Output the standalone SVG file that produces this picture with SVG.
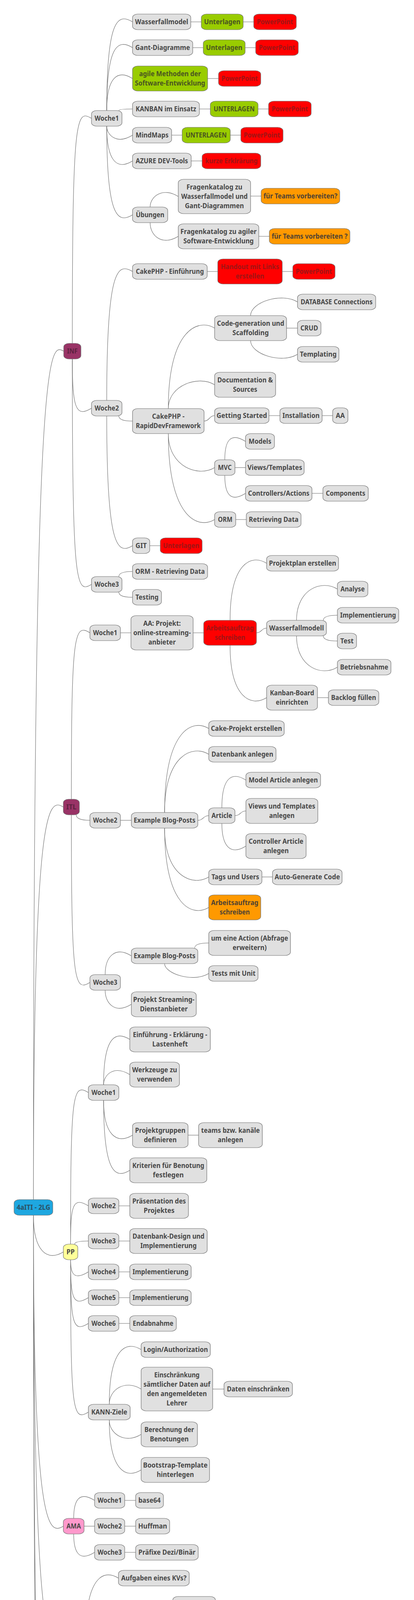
<svg xmlns="http://www.w3.org/2000/svg" width="1059" height="5353" viewBox="0 0 1059 5353">
<style>
.c path{fill:none;stroke:#6b6b6b;stroke-width:1.1}
.n rect{fill:#e0e0e0;stroke:#707070;stroke-width:1.2}
.n text{font-family:"Noto Sans","Open Sans","Liberation Sans",sans-serif;font-weight:bold;font-size:17px;fill:#474747;text-anchor:middle}
.green rect{fill:#99cc00}
.red rect{fill:#ff0000}
.orange rect{fill:#ff9900}
.purple rect{fill:#993366}
.blue rect{fill:#1ea7e0}
.yellow rect{fill:#ffff99}
.pink rect{fill:#ff99cc}
.red text{fill:#9e1414}
.purple text{fill:#5c2140}
.blue text{fill:#2c4f62}
.green text{fill:#4a5420}
.orange text{fill:#4e4233}
</style>
<rect width="1059" height="5353" fill="#ffffff"/>
<g id="connectors" class="c">
<path d="M85.5,3071 C85.5,899 123,874 163,899"/>
<path d="M85.5,3071 C85.5,2066 122,2041 162,2066"/>
<path d="M85.5,3111 C85.5,3205 122,3230 162,3205"/>
<path d="M85.5,3111 C85.5,3907 122,3932 162,3907"/>
<path d="M85.5,3111 C85.5,4213 122,4238 162,4213"/>
<path d="M85.5,3111 C85.5,4970 122,4995 162,4970"/>
<path d="M85.5,3111 C85.5,5284 122,5309 162,5284"/>
<path d="M185,879 C185,303 194,278 234,303"/>
<path d="M185,919 C185,1045 194,1070 234,1045"/>
<path d="M185,919 C185,1496 194,1521 234,1496"/>
<path d="M273,283 C273,56 299,31 339,56"/>
<path d="M273,283 C273,122 299,97 339,122"/>
<path d="M273,283 C273,201 299,176 339,201"/>
<path d="M304,283 Q304,279 339,279"/>
<path d="M273,323 C273,346 299,371 339,346"/>
<path d="M273,323 C273,412 299,437 339,412"/>
<path d="M273,323 C273,550 299,575 339,550"/>
<path d="M488,56H515 M622,56H649 M493,122H520 M627,122H654 M531,201H559 M510,279H538 M660,279H687 M439,346H466 M589,346H616 M489,412H517"/>
<path d="M384,530 C384,503 416,478 456,503"/>
<path d="M384,570 C384,605 416,630 456,605"/>
<path d="M641,502H668 M662,605H689"/>
<path d="M273,1025 C273,695 299,670 339,695"/>
<path d="M304,1065 Q304,1078 339,1078"/>
<path d="M273,1065 C273,1397 299,1422 339,1397"/>
<path d="M530,695H557 M722,695H749"/>
<path d="M430.5,1046 C430.5,840 509,815 549,840"/>
<path d="M430.5,1046 C430.5,985 509,960 549,985"/>
<path d="M522,1078 C535.5,1078 535.5,1064 549,1064"/>
<path d="M430.5,1110 C430.5,1197 509,1222 549,1197"/>
<path d="M430.5,1110 C430.5,1330 509,1355 549,1330"/>
<path d="M688,1064H716 M824,1064H851"/>
<path d="M641,808 C641,773 721,748 761,773"/>
<path d="M733,840H761"/>
<path d="M641,872 C641,907 721,932 761,907"/>
<path d="M575,1177 C575,1130 588,1105 628,1130"/>
<path d="M601,1197H628"/>
<path d="M575,1217 C575,1263 588,1288 628,1263"/>
<path d="M798,1263H826 M603,1330H630 M383,1397H410"/>
<path d="M304,1476 Q304,1463 339,1463"/>
<path d="M304,1516 Q304,1529 339,1529"/>
<path d="M182.5,2046 C182.5,1620 190,1595 230,1620"/>
<path d="M195,2086 Q195,2100 230,2100"/>
<path d="M182.5,2086 C182.5,2515 190,2540 230,2515"/>
<path d="M308,1620H335 M494,1620H521"/>
<path d="M588.5,1588 C588.5,1442 642,1417 682,1442"/>
<path d="M656,1620 C669,1620 669,1608 682,1608"/>
<path d="M588.5,1652 C588.5,1786 642,1811 682,1786"/>
<path d="M758.5,1588 C758.5,1508 823,1483 863,1508"/>
<path d="M827,1588 Q827,1575 863,1575"/>
<path d="M827,1628 Q827,1641 863,1641"/>
<path d="M758.5,1628 C758.5,1708 823,1733 863,1708"/>
<path d="M812,1786H840"/>
<path d="M308,2100H336"/>
<path d="M421,2080 C421,1865 494,1840 534,1865"/>
<path d="M421,2080 C421,1931 494,1906 534,1931"/>
<path d="M506,2100 C520,2100 520,2088 534,2088"/>
<path d="M421,2120 C421,2245 494,2270 534,2245"/>
<path d="M421,2120 C421,2323 494,2348 534,2323"/>
<path d="M567.5,2068 C567.5,1997 589,1972 629,1997"/>
<path d="M601,2088 C615,2088 615,2076 629,2076"/>
<path d="M567.5,2108 C567.5,2166 589,2191 629,2166"/>
<path d="M670,2245H697"/>
<path d="M269,2495 C269,2447 296,2422 336,2447"/>
<path d="M269,2535 C269,2571 296,2596 336,2571"/>
<path d="M498,2427 Q498,2414 534,2414"/>
<path d="M421,2467 C421,2492 494,2517 534,2492"/>
<path d="M180.5,3185 C180.5,2797 186,2772 226,2797"/>
<path d="M180.5,3185 C180.5,3087 186,3062 226,3087"/>
<path d="M191,3185 Q191,3177 226,3177"/>
<path d="M180.5,3225 C180.5,3256 186,3281 226,3256"/>
<path d="M180.5,3225 C180.5,3322 186,3347 226,3322"/>
<path d="M180.5,3225 C180.5,3388 186,3413 226,3388"/>
<path d="M180.5,3225 C180.5,3615 186,3640 226,3615"/>
<path d="M265,2777 C265,2661 292,2636 332,2661"/>
<path d="M265,2777 C265,2751 292,2726 332,2751"/>
<path d="M265,2817 C265,2906 299,2931 339,2906"/>
<path d="M265,2817 C265,2996 292,3021 332,2996"/>
<path d="M481,2906H508"/>
<path d="M304,3087H332 M304,3177H332 M304,3256H332 M304,3322H332 M304,3388H332"/>
<path d="M279.5,3595 C279.5,3455 321,3430 361,3455"/>
<path d="M279.5,3595 C279.5,3556 321,3531 361,3556"/>
<path d="M279.5,3635 C279.5,3672 321,3697 361,3672"/>
<path d="M279.5,3635 C279.5,3763 321,3788 361,3763"/>
<path d="M544,3556H573"/>
<path d="M188.5,3887 C188.5,3841 202,3816 242,3841"/>
<path d="M215,3907H242"/>
<path d="M188.5,3927 C188.5,3974 202,3999 242,3974"/>
<path d="M319,3841H347 M319,3907H347 M319,3974H347"/>
<path d="M219,4193 C219,4040 263,4015 303,4040"/>
<path d="M219,4233 C219,4387 263,4412 303,4387"/>
<path d="M359,4367 C359,4107 402,4082 442,4107"/>
<path d="M359,4367 C359,4173 402,4148 442,4173"/>
<path d="M359,4367 C359,4252 402,4227 442,4252"/>
<path d="M359,4367 C359,4330 402,4305 442,4330"/>
<path d="M359,4407 C359,4499 402,4524 442,4499"/>
<path d="M359,4407 C359,4668 402,4693 442,4668"/>
<path d="M538,4330H565"/>
<path d="M503.5,4479 C503.5,4409 552,4384 592,4409"/>
<path d="M565,4499H592"/>
<path d="M503.5,4519 C503.5,4590 552,4615 592,4590"/>
<path d="M225.5,4950 C225.5,4747 277,4722 317,4747"/>
<path d="M225.5,4950 C225.5,4837 277,4812 317,4837"/>
<path d="M225.5,4950 C225.5,4915 277,4890 317,4915"/>
<path d="M225.5,4990 C225.5,5027 277,5052 317,5027"/>
<path d="M225.5,4990 C225.5,5139 277,5164 317,5139"/>
<path d="M225.5,4990 C225.5,5206 277,5231 317,5206"/>
<path d="M441,4747H468 M418,4915H445"/>
<path d="M335,5007 C335,4982 341,4957 381,4982"/>
<path d="M345,5047 Q345,5061 381,5061"/>
<path d="M314,5284H342 M413,5284H440"/>
</g>
<g id="nodes">
<g id="n-root" class="n blue"><rect x="36" y="3071" width="99" height="40" rx="13" ry="9"/><text x="85.5" y="3096.8" textLength="86" lengthAdjust="spacingAndGlyphs">4aITI - 2LG</text></g>
<g id="n-inf" class="n purple"><rect x="163" y="879" width="44" height="40" rx="13" ry="9"/><text x="185" y="904.8" textLength="27" lengthAdjust="spacingAndGlyphs">INF</text></g>
<g id="n-inf-w1" class="n"><rect x="234" y="283" width="78" height="40" rx="13" ry="9"/><text x="273" y="308.8" textLength="62" lengthAdjust="spacingAndGlyphs">Woche1</text></g>
<g id="n-wf" class="n"><rect x="339" y="36" width="149" height="40" rx="13" ry="9"/><text x="413.5" y="61.8" textLength="136" lengthAdjust="spacingAndGlyphs">Wasserfallmodel</text></g>
<g id="n-wf-u" class="n green"><rect x="515" y="36" width="107" height="40" rx="13" ry="9"/><text x="568.5" y="61.8" textLength="93" lengthAdjust="spacingAndGlyphs">Unterlagen</text></g>
<g id="n-wf-pp" class="n red"><rect x="649" y="36" width="109" height="40" rx="13" ry="9"/><text x="703.5" y="61.8" textLength="93" lengthAdjust="spacingAndGlyphs">PowerPoint</text></g>
<g id="n-gant" class="n"><rect x="339" y="102" width="154" height="40" rx="13" ry="9"/><text x="416" y="127.8" textLength="140" lengthAdjust="spacingAndGlyphs">Gant-Diagramme</text></g>
<g id="n-gant-u" class="n green"><rect x="520" y="102" width="107" height="40" rx="13" ry="9"/><text x="573.5" y="127.8" textLength="93" lengthAdjust="spacingAndGlyphs">Unterlagen</text></g>
<g id="n-gant-pp" class="n red"><rect x="654" y="102" width="109" height="40" rx="13" ry="9"/><text x="708.5" y="127.8" textLength="93" lengthAdjust="spacingAndGlyphs">PowerPoint</text></g>
<g id="n-agile" class="n green"><rect x="339" y="169" width="192" height="64" rx="13" ry="9"/><text x="435" y="194.8" textLength="158" lengthAdjust="spacingAndGlyphs">agile Methoden der</text><text x="435" y="218.8" textLength="180" lengthAdjust="spacingAndGlyphs">Software-Entwicklung</text></g>
<g id="n-agile-pp" class="n red"><rect x="559" y="181" width="108" height="40" rx="13" ry="9"/><text x="613" y="206.8" textLength="93" lengthAdjust="spacingAndGlyphs">PowerPoint</text></g>
<g id="n-kanban" class="n"><rect x="339" y="259" width="171" height="40" rx="13" ry="9"/><text x="424.5" y="284.8" textLength="155" lengthAdjust="spacingAndGlyphs">KANBAN im Einsatz</text></g>
<g id="n-kanban-u" class="n green"><rect x="538" y="259" width="122" height="40" rx="13" ry="9"/><text x="599" y="284.8" textLength="105" lengthAdjust="spacingAndGlyphs">UNTERLAGEN</text></g>
<g id="n-kanban-pp" class="n red"><rect x="687" y="259" width="109" height="40" rx="13" ry="9"/><text x="741.5" y="284.8" textLength="93" lengthAdjust="spacingAndGlyphs">PowerPoint</text></g>
<g id="n-mm" class="n"><rect x="339" y="326" width="100" height="40" rx="13" ry="9"/><text x="389" y="351.8" textLength="84" lengthAdjust="spacingAndGlyphs">MindMaps</text></g>
<g id="n-mm-u" class="n green"><rect x="466" y="326" width="123" height="40" rx="13" ry="9"/><text x="527.5" y="351.8" textLength="105" lengthAdjust="spacingAndGlyphs">UNTERLAGEN</text></g>
<g id="n-mm-pp" class="n red"><rect x="616" y="326" width="108" height="40" rx="13" ry="9"/><text x="670" y="351.8" textLength="93" lengthAdjust="spacingAndGlyphs">PowerPoint</text></g>
<g id="n-azure" class="n"><rect x="339" y="392" width="150" height="40" rx="13" ry="9"/><text x="414" y="417.8" textLength="134" lengthAdjust="spacingAndGlyphs">AZURE DEV-Tools</text></g>
<g id="n-azure-k" class="n red"><rect x="517" y="392" width="150" height="40" rx="13" ry="9"/><text x="592" y="417.8" textLength="134" lengthAdjust="spacingAndGlyphs">kurze Erklrärung</text></g>
<g id="n-ueb" class="n"><rect x="339" y="530" width="90" height="40" rx="13" ry="9"/><text x="384" y="555.8" textLength="73" lengthAdjust="spacingAndGlyphs">Übungen</text></g>
<g id="n-fk1" class="n"><rect x="456" y="459" width="185" height="88" rx="13" ry="9"/><text x="548.5" y="484.8" textLength="143" lengthAdjust="spacingAndGlyphs">Fragenkatalog zu</text><text x="548.5" y="508.8" textLength="170" lengthAdjust="spacingAndGlyphs">Wasserfallmodel und</text><text x="548.5" y="532.8" textLength="151" lengthAdjust="spacingAndGlyphs">Gant-Diagrammen</text></g>
<g id="n-fk1-t" class="n orange"><rect x="668" y="482" width="201" height="40" rx="13" ry="9"/><text x="768.5" y="507.8" textLength="189" lengthAdjust="spacingAndGlyphs">für Teams vorbereiten?</text></g>
<g id="n-fk2" class="n"><rect x="456" y="573" width="206" height="64" rx="13" ry="9"/><text x="559" y="598.8" textLength="195" lengthAdjust="spacingAndGlyphs">Fragenkatalog zu agiler</text><text x="559" y="622.8" textLength="180" lengthAdjust="spacingAndGlyphs">Software-Entwicklung</text></g>
<g id="n-fk2-t" class="n orange"><rect x="689" y="585" width="206" height="40" rx="13" ry="9"/><text x="792" y="610.8" textLength="194" lengthAdjust="spacingAndGlyphs">für Teams vorbereiten ?</text></g>
<g id="n-inf-w2" class="n"><rect x="234" y="1025" width="78" height="40" rx="13" ry="9"/><text x="273" y="1050.8" textLength="62" lengthAdjust="spacingAndGlyphs">Woche2</text></g>
<g id="n-cake-e" class="n"><rect x="339" y="675" width="191" height="40" rx="13" ry="9"/><text x="434.5" y="700.8" textLength="174" lengthAdjust="spacingAndGlyphs">CakePHP - Einführung</text></g>
<g id="n-handout" class="n red"><rect x="557" y="663" width="165" height="64" rx="13" ry="9"/><text x="639.5" y="688.8" textLength="149" lengthAdjust="spacingAndGlyphs">Handout mit Links</text><text x="639.5" y="712.8" textLength="73" lengthAdjust="spacingAndGlyphs">erstellen</text></g>
<g id="n-handout-pp" class="n red"><rect x="749" y="675" width="108" height="40" rx="13" ry="9"/><text x="803" y="700.8" textLength="93" lengthAdjust="spacingAndGlyphs">PowerPoint</text></g>
<g id="n-rdf" class="n"><rect x="339" y="1046" width="183" height="64" rx="13" ry="9"/><text x="430.5" y="1071.8" textLength="83" lengthAdjust="spacingAndGlyphs">CakePHP -</text><text x="430.5" y="1095.8" textLength="166" lengthAdjust="spacingAndGlyphs">RapidDevFramework</text></g>
<g id="n-codegen" class="n"><rect x="549" y="808" width="184" height="64" rx="13" ry="9"/><text x="641" y="833.8" textLength="172" lengthAdjust="spacingAndGlyphs">Code-generation und</text><text x="641" y="857.8" textLength="93" lengthAdjust="spacingAndGlyphs">Scaffolding</text></g>
<g id="n-db" class="n"><rect x="761" y="753" width="200" height="40" rx="13" ry="9"/><text x="861" y="778.8" textLength="184" lengthAdjust="spacingAndGlyphs">DATABASE Connections</text></g>
<g id="n-crud" class="n"><rect x="761" y="820" width="60" height="40" rx="13" ry="9"/><text x="791" y="845.8" textLength="45" lengthAdjust="spacingAndGlyphs">CRUD</text></g>
<g id="n-templ" class="n"><rect x="761" y="887" width="106" height="40" rx="13" ry="9"/><text x="814" y="912.8" textLength="94" lengthAdjust="spacingAndGlyphs">Templating</text></g>
<g id="n-doc" class="n"><rect x="549" y="953" width="156" height="64" rx="13" ry="9"/><text x="627" y="978.8" textLength="142" lengthAdjust="spacingAndGlyphs">Documentation &amp;</text><text x="627" y="1002.8" textLength="62" lengthAdjust="spacingAndGlyphs">Sources</text></g>
<g id="n-gs" class="n"><rect x="549" y="1044" width="139" height="40" rx="13" ry="9"/><text x="618.5" y="1069.8" textLength="129" lengthAdjust="spacingAndGlyphs">Getting Started</text></g>
<g id="n-inst" class="n"><rect x="716" y="1044" width="108" height="40" rx="13" ry="9"/><text x="770" y="1069.8" textLength="95" lengthAdjust="spacingAndGlyphs">Installation</text></g>
<g id="n-aa" class="n"><rect x="851" y="1044" width="39" height="40" rx="13" ry="9"/><text x="870.5" y="1069.8" textLength="23" lengthAdjust="spacingAndGlyphs">AA</text></g>
<g id="n-models" class="n"><rect x="628" y="1110" width="74" height="40" rx="13" ry="9"/><text x="665" y="1135.8" textLength="58" lengthAdjust="spacingAndGlyphs">Models</text></g>
<g id="n-mvc" class="n"><rect x="549" y="1177" width="52" height="40" rx="13" ry="9"/><text x="575" y="1202.8" textLength="35" lengthAdjust="spacingAndGlyphs">MVC</text></g>
<g id="n-views" class="n"><rect x="628" y="1177" width="150" height="40" rx="13" ry="9"/><text x="703" y="1202.8" textLength="140" lengthAdjust="spacingAndGlyphs">Views/Templates</text></g>
<g id="n-ctrl" class="n"><rect x="628" y="1243" width="170" height="40" rx="13" ry="9"/><text x="713" y="1268.8" textLength="157" lengthAdjust="spacingAndGlyphs">Controllers/Actions</text></g>
<g id="n-comp" class="n"><rect x="826" y="1243" width="116" height="40" rx="13" ry="9"/><text x="884" y="1268.8" textLength="101" lengthAdjust="spacingAndGlyphs">Components</text></g>
<g id="n-orm" class="n"><rect x="549" y="1310" width="54" height="40" rx="13" ry="9"/><text x="576" y="1335.8" textLength="37" lengthAdjust="spacingAndGlyphs">ORM</text></g>
<g id="n-rd" class="n"><rect x="630" y="1310" width="140" height="40" rx="13" ry="9"/><text x="700" y="1335.8" textLength="127" lengthAdjust="spacingAndGlyphs">Retrieving Data</text></g>
<g id="n-git" class="n"><rect x="339" y="1377" width="44" height="40" rx="13" ry="9"/><text x="361" y="1402.8" textLength="29" lengthAdjust="spacingAndGlyphs">GIT</text></g>
<g id="n-git-u" class="n red"><rect x="410" y="1377" width="107" height="40" rx="13" ry="9"/><text x="463.5" y="1402.8" textLength="93" lengthAdjust="spacingAndGlyphs">Unterlagen</text></g>
<g id="n-inf-w3" class="n"><rect x="234" y="1476" width="78" height="40" rx="13" ry="9"/><text x="273" y="1501.8" textLength="62" lengthAdjust="spacingAndGlyphs">Woche3</text></g>
<g id="n-ormrd" class="n"><rect x="339" y="1443" width="192" height="40" rx="13" ry="9"/><text x="435" y="1468.8" textLength="178" lengthAdjust="spacingAndGlyphs">ORM - Retrieving Data</text></g>
<g id="n-testing" class="n"><rect x="339" y="1509" width="74" height="40" rx="13" ry="9"/><text x="376" y="1534.8" textLength="59" lengthAdjust="spacingAndGlyphs">Testing</text></g>
<g id="n-itl" class="n purple"><rect x="162" y="2046" width="41" height="40" rx="13" ry="9"/><text x="182.5" y="2071.8" textLength="26" lengthAdjust="spacingAndGlyphs">ITL</text></g>
<g id="n-itl-w1" class="n"><rect x="230" y="1600" width="78" height="40" rx="13" ry="9"/><text x="269" y="1625.8" textLength="62" lengthAdjust="spacingAndGlyphs">Woche1</text></g>
<g id="n-aap" class="n"><rect x="335" y="1576" width="159" height="88" rx="13" ry="9"/><text x="414.5" y="1601.8" textLength="96" lengthAdjust="spacingAndGlyphs">AA: Projekt:</text><text x="414.5" y="1625.8" textLength="147" lengthAdjust="spacingAndGlyphs">online-streaming-</text><text x="414.5" y="1649.8" textLength="70" lengthAdjust="spacingAndGlyphs">anbieter</text></g>
<g id="n-aa-red" class="n red"><rect x="521" y="1588" width="135" height="64" rx="13" ry="9"/><text x="588.5" y="1613.8" textLength="122" lengthAdjust="spacingAndGlyphs">Arbeitsauftrag</text><text x="588.5" y="1637.8" textLength="78" lengthAdjust="spacingAndGlyphs">schreiben</text></g>
<g id="n-pplan" class="n"><rect x="682" y="1422" width="184" height="40" rx="13" ry="9"/><text x="774" y="1447.8" textLength="172" lengthAdjust="spacingAndGlyphs">Projektplan erstellen</text></g>
<g id="n-wfm" class="n"><rect x="682" y="1588" width="153" height="40" rx="13" ry="9"/><text x="758.5" y="1613.8" textLength="140" lengthAdjust="spacingAndGlyphs">Wasserfallmodell</text></g>
<g id="n-analyse" class="n"><rect x="863" y="1488" width="78" height="40" rx="13" ry="9"/><text x="902" y="1513.8" textLength="62" lengthAdjust="spacingAndGlyphs">Analyse</text></g>
<g id="n-impl" class="n"><rect x="863" y="1555" width="157" height="40" rx="13" ry="9"/><text x="941.5" y="1580.8" textLength="143" lengthAdjust="spacingAndGlyphs">Implementierung</text></g>
<g id="n-test" class="n"><rect x="863" y="1621" width="49" height="40" rx="13" ry="9"/><text x="887.5" y="1646.8" textLength="34" lengthAdjust="spacingAndGlyphs">Test</text></g>
<g id="n-betr" class="n"><rect x="863" y="1688" width="137" height="40" rx="13" ry="9"/><text x="931.5" y="1713.8" textLength="123" lengthAdjust="spacingAndGlyphs">Betriebsnahme</text></g>
<g id="n-kb" class="n"><rect x="682" y="1754" width="130" height="64" rx="13" ry="9"/><text x="747" y="1779.8" textLength="113" lengthAdjust="spacingAndGlyphs">Kanban-Board</text><text x="747" y="1803.8" textLength="83" lengthAdjust="spacingAndGlyphs">einrichten</text></g>
<g id="n-backlog" class="n"><rect x="840" y="1766" width="129" height="40" rx="13" ry="9"/><text x="904.5" y="1791.8" textLength="115" lengthAdjust="spacingAndGlyphs">Backlog füllen</text></g>
<g id="n-itl-w2" class="n"><rect x="230" y="2080" width="78" height="40" rx="13" ry="9"/><text x="269" y="2105.8" textLength="62" lengthAdjust="spacingAndGlyphs">Woche2</text></g>
<g id="n-ebp" class="n"><rect x="336" y="2080" width="170" height="40" rx="13" ry="9"/><text x="421" y="2105.8" textLength="158" lengthAdjust="spacingAndGlyphs">Example Blog-Posts</text></g>
<g id="n-cakep" class="n"><rect x="534" y="1845" width="193" height="40" rx="13" ry="9"/><text x="630.5" y="1870.8" textLength="182" lengthAdjust="spacingAndGlyphs">Cake-Projekt erstellen</text></g>
<g id="n-dbanl" class="n"><rect x="534" y="1911" width="172" height="40" rx="13" ry="9"/><text x="620" y="1936.8" textLength="158" lengthAdjust="spacingAndGlyphs">Datenbank anlegen</text></g>
<g id="n-article" class="n"><rect x="534" y="2068" width="67" height="40" rx="13" ry="9"/><text x="567.5" y="2093.8" textLength="53" lengthAdjust="spacingAndGlyphs">Article</text></g>
<g id="n-model-a" class="n"><rect x="629" y="1977" width="191" height="40" rx="13" ry="9"/><text x="724.5" y="2002.8" textLength="177" lengthAdjust="spacingAndGlyphs">Model Article anlegen</text></g>
<g id="n-views-a" class="n"><rect x="629" y="2044" width="184" height="64" rx="13" ry="9"/><text x="721" y="2069.8" textLength="171" lengthAdjust="spacingAndGlyphs">Views und Templates</text><text x="721" y="2093.8" textLength="65" lengthAdjust="spacingAndGlyphs">anlegen</text></g>
<g id="n-ctrl-a" class="n"><rect x="629" y="2134" width="154" height="64" rx="13" ry="9"/><text x="706" y="2159.8" textLength="140" lengthAdjust="spacingAndGlyphs">Controller Article</text><text x="706" y="2183.8" textLength="65" lengthAdjust="spacingAndGlyphs">anlegen</text></g>
<g id="n-tags" class="n"><rect x="534" y="2225" width="136" height="40" rx="13" ry="9"/><text x="602" y="2250.8" textLength="122" lengthAdjust="spacingAndGlyphs">Tags und Users</text></g>
<g id="n-autogen" class="n"><rect x="697" y="2225" width="178" height="40" rx="13" ry="9"/><text x="786" y="2250.8" textLength="167" lengthAdjust="spacingAndGlyphs">Auto-Generate Code</text></g>
<g id="n-aa-or" class="n orange"><rect x="534" y="2291" width="133" height="64" rx="13" ry="9"/><text x="600.5" y="2316.8" textLength="121" lengthAdjust="spacingAndGlyphs">Arbeitsauftrag</text><text x="600.5" y="2340.8" textLength="77" lengthAdjust="spacingAndGlyphs">schreiben</text></g>
<g id="n-itl-w3" class="n"><rect x="230" y="2495" width="78" height="40" rx="13" ry="9"/><text x="269" y="2520.8" textLength="62" lengthAdjust="spacingAndGlyphs">Woche3</text></g>
<g id="n-ebp2" class="n"><rect x="336" y="2427" width="170" height="40" rx="13" ry="9"/><text x="421" y="2452.8" textLength="158" lengthAdjust="spacingAndGlyphs">Example Blog-Posts</text></g>
<g id="n-action" class="n"><rect x="534" y="2382" width="209" height="64" rx="13" ry="9"/><text x="638.5" y="2407.8" textLength="197" lengthAdjust="spacingAndGlyphs">um eine Action (Abfrage</text><text x="638.5" y="2431.8" textLength="87" lengthAdjust="spacingAndGlyphs">erweitern)</text></g>
<g id="n-tests" class="n"><rect x="534" y="2472" width="126" height="40" rx="13" ry="9"/><text x="597" y="2497.8" textLength="113" lengthAdjust="spacingAndGlyphs">Tests mit Unit</text></g>
<g id="n-stream" class="n"><rect x="336" y="2539" width="166" height="64" rx="13" ry="9"/><text x="419" y="2564.8" textLength="157" lengthAdjust="spacingAndGlyphs">Projekt Streaming-</text><text x="419" y="2588.8" textLength="122" lengthAdjust="spacingAndGlyphs">Dienstanbieter</text></g>
<g id="n-pp" class="n yellow"><rect x="162" y="3185" width="37" height="40" rx="13" ry="9"/><text x="180.5" y="3210.8" textLength="21" lengthAdjust="spacingAndGlyphs">PP</text></g>
<g id="n-pp-w1" class="n"><rect x="226" y="2777" width="78" height="40" rx="13" ry="9"/><text x="265" y="2802.8" textLength="62" lengthAdjust="spacingAndGlyphs">Woche1</text></g>
<g id="n-einf" class="n"><rect x="332" y="2629" width="206" height="64" rx="13" ry="9"/><text x="435" y="2654.8" textLength="190" lengthAdjust="spacingAndGlyphs">Einführung - Erklärung -</text><text x="435" y="2678.8" textLength="91" lengthAdjust="spacingAndGlyphs">Lastenheft</text></g>
<g id="n-werk" class="n"><rect x="332" y="2719" width="127" height="64" rx="13" ry="9"/><text x="395.5" y="2744.8" textLength="115" lengthAdjust="spacingAndGlyphs">Werkzeuge zu</text><text x="395.5" y="2768.8" textLength="90" lengthAdjust="spacingAndGlyphs">verwenden</text></g>
<g id="n-pgrp" class="n"><rect x="339" y="2874" width="142" height="64" rx="13" ry="9"/><text x="410" y="2899.8" textLength="129" lengthAdjust="spacingAndGlyphs">Projektgruppen</text><text x="410" y="2923.8" textLength="84" lengthAdjust="spacingAndGlyphs">definieren</text></g>
<g id="n-teams" class="n"><rect x="508" y="2874" width="163" height="64" rx="13" ry="9"/><text x="589.5" y="2899.8" textLength="150" lengthAdjust="spacingAndGlyphs">teams bzw. kanäle</text><text x="589.5" y="2923.8" textLength="65" lengthAdjust="spacingAndGlyphs">anlegen</text></g>
<g id="n-krit" class="n"><rect x="332" y="2964" width="197" height="64" rx="13" ry="9"/><text x="430.5" y="2989.8" textLength="184" lengthAdjust="spacingAndGlyphs">Kriterien für Benotung</text><text x="430.5" y="3013.8" textLength="79" lengthAdjust="spacingAndGlyphs">festlegen</text></g>
<g id="n-pp-w2" class="n"><rect x="226" y="3067" width="78" height="40" rx="13" ry="9"/><text x="265" y="3092.8" textLength="62" lengthAdjust="spacingAndGlyphs">Woche2</text></g>
<g id="n-praes" class="n"><rect x="332" y="3055" width="150" height="64" rx="13" ry="9"/><text x="407" y="3080.8" textLength="137" lengthAdjust="spacingAndGlyphs">Präsentation des</text><text x="407" y="3104.8" textLength="79" lengthAdjust="spacingAndGlyphs">Projektes</text></g>
<g id="n-pp-w3" class="n"><rect x="226" y="3157" width="78" height="40" rx="13" ry="9"/><text x="265" y="3182.8" textLength="62" lengthAdjust="spacingAndGlyphs">Woche3</text></g>
<g id="n-dbd" class="n"><rect x="332" y="3145" width="198" height="64" rx="13" ry="9"/><text x="431" y="3170.8" textLength="184" lengthAdjust="spacingAndGlyphs">Datenbank-Design und</text><text x="431" y="3194.8" textLength="144" lengthAdjust="spacingAndGlyphs">Implementierung</text></g>
<g id="n-pp-w4" class="n"><rect x="226" y="3236" width="78" height="40" rx="13" ry="9"/><text x="265" y="3261.8" textLength="62" lengthAdjust="spacingAndGlyphs">Woche4</text></g>
<g id="n-impl4" class="n"><rect x="332" y="3236" width="157" height="40" rx="13" ry="9"/><text x="410.5" y="3261.8" textLength="143" lengthAdjust="spacingAndGlyphs">Implementierung</text></g>
<g id="n-pp-w5" class="n"><rect x="226" y="3302" width="78" height="40" rx="13" ry="9"/><text x="265" y="3327.8" textLength="62" lengthAdjust="spacingAndGlyphs">Woche5</text></g>
<g id="n-impl5" class="n"><rect x="332" y="3302" width="157" height="40" rx="13" ry="9"/><text x="410.5" y="3327.8" textLength="143" lengthAdjust="spacingAndGlyphs">Implementierung</text></g>
<g id="n-pp-w6" class="n"><rect x="226" y="3368" width="78" height="40" rx="13" ry="9"/><text x="265" y="3393.8" textLength="62" lengthAdjust="spacingAndGlyphs">Woche6</text></g>
<g id="n-endab" class="n"><rect x="332" y="3368" width="119" height="40" rx="13" ry="9"/><text x="391.5" y="3393.8" textLength="104" lengthAdjust="spacingAndGlyphs">Endabnahme</text></g>
<g id="n-kann" class="n"><rect x="226" y="3595" width="107" height="40" rx="13" ry="9"/><text x="279.5" y="3620.8" textLength="92" lengthAdjust="spacingAndGlyphs">KANN-Ziele</text></g>
<g id="n-login" class="n"><rect x="361" y="3435" width="177" height="40" rx="13" ry="9"/><text x="449.5" y="3460.8" textLength="165" lengthAdjust="spacingAndGlyphs">Login/Authorization</text></g>
<g id="n-einschr" class="n"><rect x="361" y="3500" width="183" height="112" rx="13" ry="9"/><text x="452.5" y="3525.8" textLength="116" lengthAdjust="spacingAndGlyphs">Einschränkung</text><text x="452.5" y="3549.8" textLength="171" lengthAdjust="spacingAndGlyphs">sämtlicher Daten auf</text><text x="452.5" y="3573.8" textLength="153" lengthAdjust="spacingAndGlyphs">den angemeldeten</text><text x="452.5" y="3597.8" textLength="53" lengthAdjust="spacingAndGlyphs">Lehrer</text></g>
<g id="n-daten" class="n"><rect x="573" y="3536" width="175" height="40" rx="13" ry="9"/><text x="660.5" y="3561.8" textLength="160" lengthAdjust="spacingAndGlyphs">Daten einschränken</text></g>
<g id="n-berech" class="n"><rect x="361" y="3640" width="144" height="64" rx="13" ry="9"/><text x="433" y="3665.8" textLength="127" lengthAdjust="spacingAndGlyphs">Berechnung der</text><text x="433" y="3689.8" textLength="99" lengthAdjust="spacingAndGlyphs">Benotungen</text></g>
<g id="n-boot" class="n"><rect x="361" y="3731" width="175" height="64" rx="13" ry="9"/><text x="448.5" y="3756.8" textLength="165" lengthAdjust="spacingAndGlyphs">Bootstrap-Template</text><text x="448.5" y="3780.8" textLength="95" lengthAdjust="spacingAndGlyphs">hinterlegen</text></g>
<g id="n-ama" class="n pink"><rect x="162" y="3887" width="53" height="40" rx="13" ry="9"/><text x="188.5" y="3912.8" textLength="37" lengthAdjust="spacingAndGlyphs">AMA</text></g>
<g id="n-ama-w1" class="n"><rect x="242" y="3821" width="77" height="40" rx="13" ry="9"/><text x="280.5" y="3846.8" textLength="62" lengthAdjust="spacingAndGlyphs">Woche1</text></g>
<g id="n-base64" class="n"><rect x="347" y="3821" width="71" height="40" rx="13" ry="9"/><text x="382.5" y="3846.8" textLength="57" lengthAdjust="spacingAndGlyphs">base64</text></g>
<g id="n-ama-w2" class="n"><rect x="242" y="3887" width="77" height="40" rx="13" ry="9"/><text x="280.5" y="3912.8" textLength="62" lengthAdjust="spacingAndGlyphs">Woche2</text></g>
<g id="n-huffman" class="n"><rect x="347" y="3887" width="87" height="40" rx="13" ry="9"/><text x="390.5" y="3912.8" textLength="74" lengthAdjust="spacingAndGlyphs">Huffman</text></g>
<g id="n-ama-w3" class="n"><rect x="242" y="3954" width="77" height="40" rx="13" ry="9"/><text x="280.5" y="3979.8" textLength="62" lengthAdjust="spacingAndGlyphs">Woche3</text></g>
<g id="n-praef" class="n"><rect x="347" y="3954" width="160" height="40" rx="13" ry="9"/><text x="427" y="3979.8" textLength="146" lengthAdjust="spacingAndGlyphs">Präfixe Dezi/Binär</text></g>
<g id="n-allg" class="n"><rect x="162" y="4193" width="114" height="40" rx="13" ry="9"/><text x="219" y="4218.8" textLength="100" lengthAdjust="spacingAndGlyphs">Allgemeines</text></g>
<g id="n-kv" class="n"><rect x="303" y="4020" width="181" height="40" rx="13" ry="9"/><text x="393.5" y="4045.8" textLength="167" lengthAdjust="spacingAndGlyphs">Aufgaben eines KVs?</text></g>
<g id="n-start" class="n"><rect x="303" y="4367" width="112" height="40" rx="13" ry="9"/><text x="359" y="4392.8" textLength="101" lengthAdjust="spacingAndGlyphs">Am Starttag</text></g>
<g id="n-pperk" class="n"><rect x="442" y="4087" width="109" height="40" rx="13" ry="9"/><text x="496.5" y="4112.8" textLength="93" lengthAdjust="spacingAndGlyphs">PP erklären</text></g>
<g id="n-vorst" class="n"><rect x="442" y="4153" width="165" height="40" rx="13" ry="9"/><text x="524.5" y="4178.8" textLength="149" lengthAdjust="spacingAndGlyphs">Vorstellungsrunde</text></g>
<g id="n-stoff" class="n"><rect x="442" y="4220" width="202" height="64" rx="13" ry="9"/><text x="543" y="4245.8" textLength="192" lengthAdjust="spacingAndGlyphs">Stoff für die nächsten 7</text><text x="543" y="4269.8" textLength="171" lengthAdjust="spacingAndGlyphs">Wochen präsentieren</text></g>
<g id="n-benot" class="n"><rect x="442" y="4310" width="96" height="40" rx="13" ry="9"/><text x="490" y="4335.8" textLength="80" lengthAdjust="spacingAndGlyphs">Benotung</text></g>
<g id="n-uebg" class="n"><rect x="565" y="4310" width="89" height="40" rx="13" ry="9"/><text x="609.5" y="4335.8" textLength="73" lengthAdjust="spacingAndGlyphs">Übungen</text></g>
<g id="n-schwer" class="n"><rect x="442" y="4479" width="123" height="40" rx="13" ry="9"/><text x="503.5" y="4504.8" textLength="105" lengthAdjust="spacingAndGlyphs">Schwerpunkt</text></g>
<g id="n-prakt" class="n"><rect x="592" y="4377" width="154" height="64" rx="13" ry="9"/><text x="669" y="4402.8" textLength="86" lengthAdjust="spacingAndGlyphs">praktische</text><text x="669" y="4426.8" textLength="140" lengthAdjust="spacingAndGlyphs">Programmierung</text></g>
<g id="n-eigen" class="n"><rect x="592" y="4467" width="136" height="64" rx="13" ry="9"/><text x="660" y="4492.8" textLength="117" lengthAdjust="spacingAndGlyphs">eigenständige</text><text x="660" y="4516.8" textLength="121" lengthAdjust="spacingAndGlyphs">Problemlösung</text></g>
<g id="n-lap" class="n"><rect x="592" y="4558" width="188" height="64" rx="13" ry="9"/><text x="686" y="4583.8" textLength="173" lengthAdjust="spacingAndGlyphs">LAP Programmierung</text><text x="686" y="4607.8" textLength="74" lengthAdjust="spacingAndGlyphs">mit Cake</text></g>
<g id="n-msteams" class="n"><rect x="442" y="4648" width="96" height="40" rx="13" ry="9"/><text x="490" y="4673.8" textLength="81" lengthAdjust="spacingAndGlyphs">MS Teams</text></g>
<g id="n-offen" class="n red"><rect x="162" y="4950" width="127" height="40" rx="13" ry="9"/><text x="225.5" y="4975.8" textLength="115" lengthAdjust="spacingAndGlyphs">offene Fragen</text></g>
<g id="n-loginl" class="n green"><rect x="317" y="4715" width="124" height="64" rx="13" ry="9"/><text x="379" y="4740.8" textLength="96" lengthAdjust="spacingAndGlyphs">Loginliste??</text><text x="379" y="4764.8" textLength="106" lengthAdjust="spacingAndGlyphs">Wo? Für Was?</text></g>
<g id="n-verteil" class="n"><rect x="468" y="4727" width="127" height="40" rx="13" ry="9"/><text x="531.5" y="4752.8" textLength="113" lengthAdjust="spacingAndGlyphs">wie verteilen?</text></g>
<g id="n-vorweg" class="n"><rect x="317" y="4805" width="197" height="64" rx="13" ry="9"/><text x="415.5" y="4830.8" textLength="190" lengthAdjust="spacingAndGlyphs">Vorweg-Info für Teams</text><text x="415.5" y="4854.8" textLength="97" lengthAdjust="spacingAndGlyphs">notwendig?</text></g>
<g id="n-msproj" class="n"><rect x="317" y="4895" width="101" height="40" rx="13" ry="9"/><text x="367.5" y="4920.8" textLength="88" lengthAdjust="spacingAndGlyphs">MS-Project</text></g>
<g id="n-keine" class="n"><rect x="445" y="4895" width="173" height="40" rx="13" ry="9"/><text x="531.5" y="4920.8" textLength="158" lengthAdjust="spacingAndGlyphs">keine Berechtigung</text></g>
<g id="n-pp2" class="n"><rect x="317" y="5007" width="36" height="40" rx="13" ry="9"/><text x="335" y="5032.8" textLength="20" lengthAdjust="spacingAndGlyphs">PP</text></g>
<g id="n-david" class="n"><rect x="381" y="4962" width="150" height="40" rx="13" ry="9"/><text x="456" y="4987.8" textLength="136" lengthAdjust="spacingAndGlyphs">Aufgaben David?</text></g>
<g id="n-engl" class="n"><rect x="381" y="5029" width="138" height="64" rx="13" ry="9"/><text x="450" y="5054.8" textLength="125" lengthAdjust="spacingAndGlyphs">Präsentation in</text><text x="450" y="5078.8" textLength="77" lengthAdjust="spacingAndGlyphs">English ??</text></g>
<g id="n-kenn" class="n"><rect x="317" y="5119" width="207" height="40" rx="13" ry="9"/><text x="420.5" y="5144.8" textLength="194" lengthAdjust="spacingAndGlyphs">Kennwortliste Office365</text></g>
<g id="n-itl1" class="n"><rect x="317" y="5186" width="71" height="40" rx="13" ry="9"/><text x="352.5" y="5211.8" textLength="59" lengthAdjust="spacingAndGlyphs">ITL1 ??</text></g>
<g id="n-mstf" class="n"><rect x="162" y="5264" width="152" height="40" rx="13" ry="9"/><text x="238" y="5289.8" textLength="142" lengthAdjust="spacingAndGlyphs">MS Teams fragen</text></g>
<g id="n-kanaele" class="n"><rect x="342" y="5264" width="71" height="40" rx="13" ry="9"/><text x="377.5" y="5289.8" textLength="54" lengthAdjust="spacingAndGlyphs">Kanäle</text></g>
<g id="n-koennen" class="n"><rect x="440" y="5252" width="192" height="64" rx="13" ry="9"/><text x="536" y="5277.8" textLength="176" lengthAdjust="spacingAndGlyphs">Können Schüler selbst</text><text x="536" y="5301.8" textLength="90" lengthAdjust="spacingAndGlyphs">einrichten?</text></g>
</g>
</svg>
